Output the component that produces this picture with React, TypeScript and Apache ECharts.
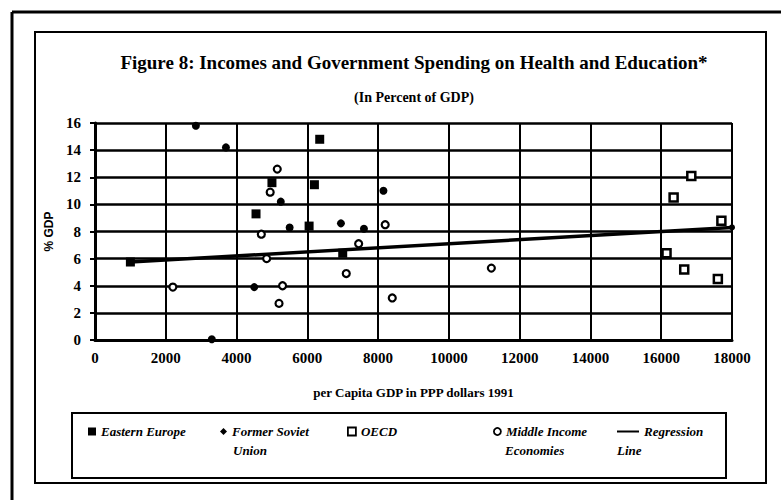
import { useEffect, useRef } from "react";
import * as echarts from "echarts";

// ---- Data ----
const easternEurope: [number, number][] = [
  [5000, 11.6],
  [4550, 9.3],
  [6050, 8.4],
  [6350, 14.8],
  [6200, 11.45],
  [7000, 6.4],
];

const formerSovietUnion: [number, number][] = [
  [2850, 15.8],
  [3700, 14.2],
  [5250, 10.2],
  [5500, 8.3],
  [4500, 3.9],
  [3300, 0.05],
  [6950, 8.6],
  [7600, 8.2],
  [8150, 11.0],
];

const oecd: [number, number][] = [
  [16850, 12.1],
  [16350, 10.5],
  [17700, 8.8],
  [16150, 6.4],
  [16650, 5.2],
  [17600, 4.5],
];

const middleIncome: [number, number][] = [
  [5150, 12.6],
  [4950, 10.9],
  [4700, 7.8],
  [4850, 6.0],
  [2200, 3.9],
  [5300, 4.0],
  [5200, 2.7],
  [8200, 8.5],
  [7450, 7.1],
  [7100, 4.9],
  [8400, 3.1],
  [11200, 5.3],
];

const regressionX: number[] = [1000, 18000];
const regressionY: number[] = [5.75, 8.3];

const xTicks: number[] = [0, 2000, 4000, 6000, 8000, 10000, 12000, 14000, 16000, 18000];
const yTicks: number[] = [0, 2, 4, 6, 8, 10, 12, 14, 16];

const xMin = 0;
const xMax = 18000;
const xStep = 2000;
const yMin = 0;
const yMax = 16;
const yStep = 2;

const titleText = "Figure 8: Incomes and Government Spending on Health and Education*";
const subtitleText = "(In Percent of GDP)";
const xName = "per Capita GDP in PPP dollars 1991";
const yName = "% GDP";

const serif = "Liberation Serif";

export default function App() {
  const ref = useRef<HTMLDivElement>(null);

  useEffect(() => {
    if (!ref.current) return;
    const chart = echarts.init(ref.current, undefined, { renderer: "svg" });

    const legendText = {
      fontFamily: serif,
      fontWeight: "bold" as const,
      fontStyle: "italic" as const,
      fontSize: 13,
      color: "#000",
    };

    const makeLegend = (
      name: string,
      left: number,
      icon: string,
      w: number,
      h: number,
      label: string,
      hollow: boolean
    ) => ({
      data: [
        {
          name,
          icon,
          itemStyle: hollow
            ? { color: "#fff", borderColor: "#000", borderWidth: 1.8 }
            : { color: "#000", borderWidth: 0 },
        },
      ],
      left,
      top: 425,
      padding: 0,
      itemWidth: w,
      itemHeight: h,
      formatter: () => label,
      textStyle: legendText,
      selectedMode: false,
    });

    // grid lines through the axes' own scales (markLine at tick values)
    const gridLines: any[] = [
      ...yTicks.filter((v) => v > yMin).map((v) => ({ yAxis: v, lineStyle: { width: 2.5 } })),
      ...xTicks.filter((v) => v > xMin).map((v) => ({ xAxis: v, lineStyle: { width: 2 } })),
    ];

    const option: echarts.EChartsOption = {
      animation: false,
      backgroundColor: "#fff",
      title: [
        {
          text: titleText,
          left: 414,
          top: 53,
          textAlign: "center",
          padding: 0,
          textStyle: { fontFamily: serif, fontWeight: "bold", fontSize: 19, color: "#000" },
        },
        {
          text: subtitleText,
          left: 414,
          top: 90,
          textAlign: "center",
          padding: 0,
          textStyle: { fontFamily: serif, fontWeight: "bold", fontSize: 14, color: "#000" },
        },
      ],
      legend: [
        makeLegend("Eastern Europe", 88, "rect", 8, 8, "Eastern Europe", false),
        makeLegend("Former Soviet Union", 220, "diamond", 7, 7, "Former Soviet", false),
        makeLegend("OECD", 347, "rect", 8, 8, "OECD", true),
        makeLegend("Middle Income Economies", 493, "circle", 7, 7, "Middle Income", true),
        makeLegend("Regression Line", 617, "rect", 22, 2, "Regression", false),
      ],
      grid: {
        left: 95,
        right: 49,
        top: 123,
        bottom: 160,
      },
      xAxis: {
        type: "value",
        min: xMin,
        max: xMax,
        interval: xStep,
        name: xName,
        nameLocation: "middle",
        nameGap: 46,
        nameTextStyle: { fontFamily: serif, fontWeight: "bold", fontSize: 13, color: "#000" },
        axisLine: { show: true, lineStyle: { color: "#000", width: 3 } },
        axisTick: { show: false },
        axisLabel: {
          fontFamily: serif,
          fontWeight: "bold",
          fontSize: 15,
          color: "#000",
          margin: 10,
          formatter: (v: number) => String(v),
        },
        splitLine: { show: false },
      },
      yAxis: {
        type: "value",
        min: yMin,
        max: yMax,
        interval: yStep,
        name: yName,
        nameLocation: "middle",
        nameRotate: 90,
        nameGap: 38,
        nameTextStyle: { fontFamily: "Liberation Sans", fontWeight: "bold", fontSize: 12, color: "#000" },
        axisLine: { show: true, lineStyle: { color: "#000", width: 3 } },
        axisTick: { show: true, length: 5, lineStyle: { color: "#000", width: 2 } },
        axisLabel: {
          fontFamily: serif,
          fontWeight: "bold",
          fontSize: 15,
          color: "#000",
          margin: 14,
          formatter: (v: number) => String(v),
        },
        splitLine: { show: false },
      },
      graphic: [
        // outer frame (top and left edges)
        { type: "line", shape: { x1: 12, y1: 12, x2: 781, y2: 12 }, style: { stroke: "#000", lineWidth: 3 }, silent: true },
        { type: "line", shape: { x1: 12, y1: 12, x2: 12, y2: 500 }, style: { stroke: "#000", lineWidth: 3 }, silent: true },
        // inner frame
        {
          type: "rect",
          shape: { x: 35, y: 32, width: 731, height: 451 },
          style: { fill: null, stroke: "#000", lineWidth: 2 },
          silent: true,
        },
        // legend box
        {
          type: "rect",
          shape: { x: 72, y: 413, width: 654, height: 65 },
          style: { fill: null, stroke: "#000", lineWidth: 2 },
          silent: true,
        },
        // second lines of legend labels
        { type: "text", x: 233, y: 450, style: { text: "Union", fontFamily: serif, fontWeight: "bold", fontStyle: "italic", fontSize: 13, fill: "#000", verticalAlign: "middle" } },
        { type: "text", x: 505, y: 450, style: { text: "Economies", fontFamily: serif, fontWeight: "bold", fontStyle: "italic", fontSize: 13, fill: "#000", verticalAlign: "middle" } },
        { type: "text", x: 617, y: 450, style: { text: "Line", fontFamily: serif, fontWeight: "bold", fontStyle: "italic", fontSize: 13, fill: "#000", verticalAlign: "middle" } },
      ],
      series: [
        {
          name: "Regression Line",
          type: "line",
          data: [
            { value: [regressionX[0], regressionY[0]], symbol: "rect", symbolSize: 9 },
            { value: [regressionX[1], regressionY[1]], symbol: "circle", symbolSize: 6 },
          ],
          showSymbol: true,
          lineStyle: { color: "#000", width: 3.5 },
          itemStyle: { color: "#000" },
          z: 2,
          markLine: {
            silent: true,
            symbol: ["none", "none"],
            label: { show: false },
            lineStyle: { color: "#000", type: "solid", width: 2 },
            emphasis: { disabled: true },
            z: 1,
            data: gridLines,
          },
        },
        {
          name: "Eastern Europe",
          type: "scatter",
          data: easternEurope,
          symbol: "rect",
          symbolSize: 9,
          itemStyle: { color: "#000", opacity: 1 },
          z: 3,
        },
        {
          name: "Former Soviet Union",
          type: "scatter",
          data: formerSovietUnion,
          symbol: "circle",
          symbolSize: 8,
          itemStyle: { color: "#000", opacity: 1 },
          z: 3,
        },
        {
          name: "OECD",
          type: "scatter",
          data: oecd,
          symbol: "rect",
          symbolSize: 8,
          itemStyle: { color: "#fff", borderColor: "#000", borderWidth: 2.5, opacity: 1 },
          z: 3,
        },
        {
          name: "Middle Income Economies",
          type: "scatter",
          data: middleIncome,
          symbol: "circle",
          symbolSize: 7,
          itemStyle: { color: "#fff", borderColor: "#000", borderWidth: 2.2, opacity: 1 },
          z: 3,
        },
      ],
    };

    chart.setOption(option);
    return () => {
      chart.dispose();
    };
  }, []);

  return (
    <div
      ref={ref}
      style={{ width: 781, height: 500, position: "absolute", left: 0, top: 0, background: "#fff" }}
    />
  );
}
